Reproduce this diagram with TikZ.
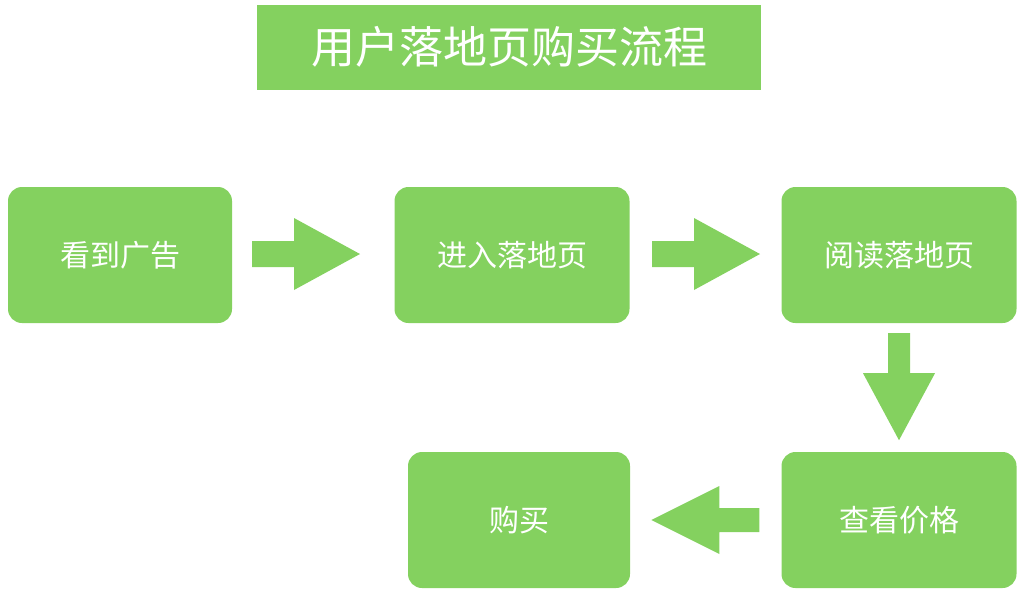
\documentclass[tikz,border=0pt]{standalone}
\usepackage{fontspec}
\newfontfamily\cjk{Noto Sans CJK SC}
\definecolor{leaf}{HTML}{84D15F}
\tikzset{
  stepbox/.style={fill=leaf, rounded corners=14pt, minimum width=224pt, minimum height=136pt,
    inner sep=0pt, font=\cjk\fontsize{30}{30}\selectfont, text=white},
  fatarrow/.style={fill=leaf}
}
\begin{document}
\begin{tikzpicture}[x=1pt, y=-1pt]
\useasboundingbox (0,0) rectangle (1034,592);

\node[fill=leaf, minimum width=504pt, minimum height=85pt, inner sep=0pt,
  font=\cjk\fontsize{44}{44}\selectfont, text=white] (title) at (509,47) {用户落地页购买流程};

\node[stepbox] (ad) at (120,255) {看到广告};
\node[stepbox, minimum width=235pt] (enter) at (512,255) {进入落地页};
\node[stepbox, minimum width=235pt] (read) at (899,255) {阅读落地页};
\node[stepbox, minimum width=235pt] (price) at (899,520) {查看价格};
\node[stepbox, minimum width=222pt] (buy) at (519,520) {购买};

% block arrows
\def\rarrow#1#2{\fill[fatarrow] (#1,#2) ++(0,-13) -- ++(42,0) -- ++(0,-23) -- ++(66,36) -- ++(-66,36) -- ++(0,-23) -- ++(-42,0) -- cycle;}
\rarrow{252}{254}
\rarrow{652}{254}
\fill[fatarrow] (read.south) ++(-11,10) -- ++(0,40) -- ++(-25,0) -- ++(36,67) -- ++(36,-67) -- ++(-25,0) -- ++(0,-40) -- cycle;
\fill[fatarrow] (price.west) ++(-22,-12) -- ++(-40,0) -- ++(0,-22) -- ++(-68,34) -- ++(68,34) -- ++(0,-22) -- ++(40,0) -- cycle;
\end{tikzpicture}
\end{document}
